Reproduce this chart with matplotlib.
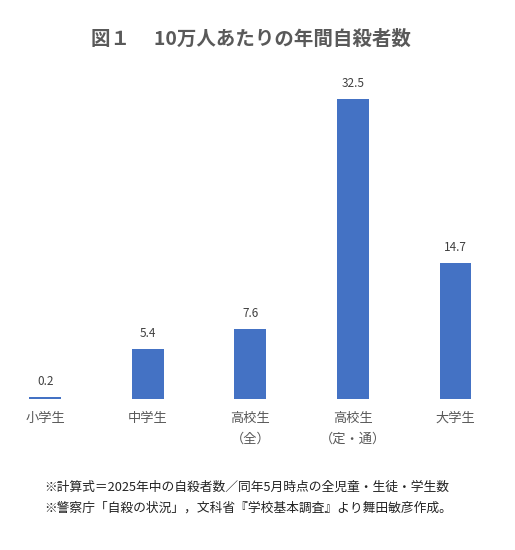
import numpy as np
import matplotlib
matplotlib.use("Agg")
import matplotlib.pyplot as plt

plt.rcParams['font.family'] = ['Noto Sans CJK JP', 'DejaVu Sans']

# data
categories = ["小学生", "中学生", "高校生\n（全）", "高校生\n（定・通）", "大学生"]
values = [0.2, 5.4, 7.6, 32.5, 14.7]
value_labels = ["0.2", "5.4", "7.6", "32.5", "14.7"]

title = "図１　 10万人あたりの年間自殺者数"
note1 = "※計算式＝2025年中の自殺者数／同年5月時点の全児童・生徒・学生数"
note2 = "※警察庁「自殺の状況」，文科省『学校基本調査』より舞田敏彦作成。"

fig = plt.figure(figsize=(5.15, 5.5), dpi=100)
ax = fig.add_axes([0.0, 0.2745, 0.97, 0.5875])

x = np.arange(len(categories))
ax.bar(x, values, width=0.31, color="#4472C4")
for xi, v, lab in zip(x, values, value_labels):
    ax.text(xi, v + 1.0, lab, ha="center", va="bottom", fontsize=8.5, color="#404040")

ax.set_xlim(-0.44, 4.43)
ax.set_ylim(0, 35)
ax.set_xticks(x)
ax.set_xticklabels(categories, fontsize=9.5, color="#595959", linespacing=1.8, va="top")
ax.tick_params(axis="x", length=0, pad=9)
ax.set_yticks([])
for s in ax.spines.values():
    s.set_visible(False)

fig.text(0.488, 0.928, title, ha="center", va="center", fontsize=14, fontweight="bold", color="#595959")
fig.text(0.085, 0.113, note1, ha="left", va="center", fontsize=9.2, color="#222222")
fig.text(0.085, 0.077, note2, ha="left", va="center", fontsize=9.2, color="#222222")

fig.savefig("out.png", dpi=100, facecolor="white")
